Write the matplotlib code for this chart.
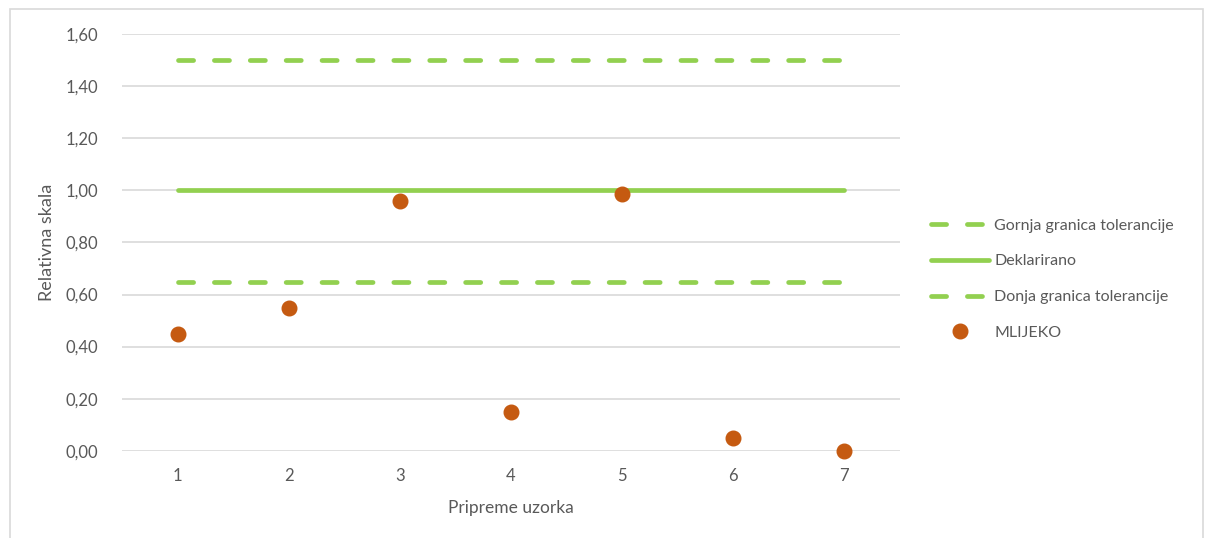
import numpy as np
import matplotlib.pyplot as plt
from matplotlib.patches import Rectangle

# podaci
uzorci = [1, 2, 3, 4, 5, 6, 7]
mlijeko = [0.45, 0.55, 0.96, 0.15, 0.985, 0.05, 0.0]
gornja = [1.5] * 7
deklarirano = [1.0] * 7
donja = [0.65] * 7

zelena = '#92D050'
narancasta = '#C55A11'
siva = '#595959'

plt.rcParams['font.family'] = ['Lato', 'DejaVu Sans']

fig = plt.figure(figsize=(12.05, 5.38), dpi=100)
fig.patches.append(Rectangle((10/1205, -0.01), 1193/1205, 1 - 9/538 + 0.01,
                             transform=fig.transFigure, fill=False,
                             edgecolor='#D9D9D9', linewidth=1.2))
ax = fig.add_axes([122/1205, 1 - 451/538, 778/1205, 417/538])

crtkano = (0, (3.2, 4.4))
ax.plot(uzorci, gornja, color=zelena, lw=3.4, ls=crtkano,
        dash_capstyle='round', label='Gornja granica tolerancije')
ax.plot(uzorci, deklarirano, color=zelena, lw=3.4, solid_capstyle='round',
        label='Deklarirano')
ax.plot(uzorci, donja, color=zelena, lw=3.4, ls=crtkano,
        dash_capstyle='round', label='Donja granica tolerancije')
ax.plot(uzorci, mlijeko, 'o', color=narancasta, ms=10.5, ls='none',
        label='MLIJEKO', zorder=5, clip_on=False)

ax.set_xlim(0.5, 7.5)
ax.set_ylim(-0.001, 1.601)
ax.set_yticks(np.arange(0, 1.61, 0.2))
ax.set_yticklabels([f'{v:.2f}'.replace('.', ',') for v in np.arange(0, 1.61, 0.2)])
ax.set_xticks(uzorci)
ax.grid(axis='y', color='#D9D9D9', lw=1.2)
ax.set_axisbelow(True)
for s in ax.spines.values():
    s.set_visible(False)
ax.tick_params(length=0, labelsize=12, colors=siva)
ax.tick_params(axis='x', pad=12)
ax.tick_params(axis='y', pad=17)

ax.set_xlabel('Pripreme uzorka', fontsize=12.5, color=siva, labelpad=12)
ax.set_ylabel('Relativna skala', fontsize=13, color=siva, labelpad=8)

leg = ax.legend(loc='center left', bbox_to_anchor=(1.04, 0.412),
                frameon=False, fontsize=11.5, labelcolor=siva,
                borderpad=0, borderaxespad=0,
                handlelength=3.6, handletextpad=0.35, labelspacing=1.35)

fig.savefig('out.png', dpi=100)
